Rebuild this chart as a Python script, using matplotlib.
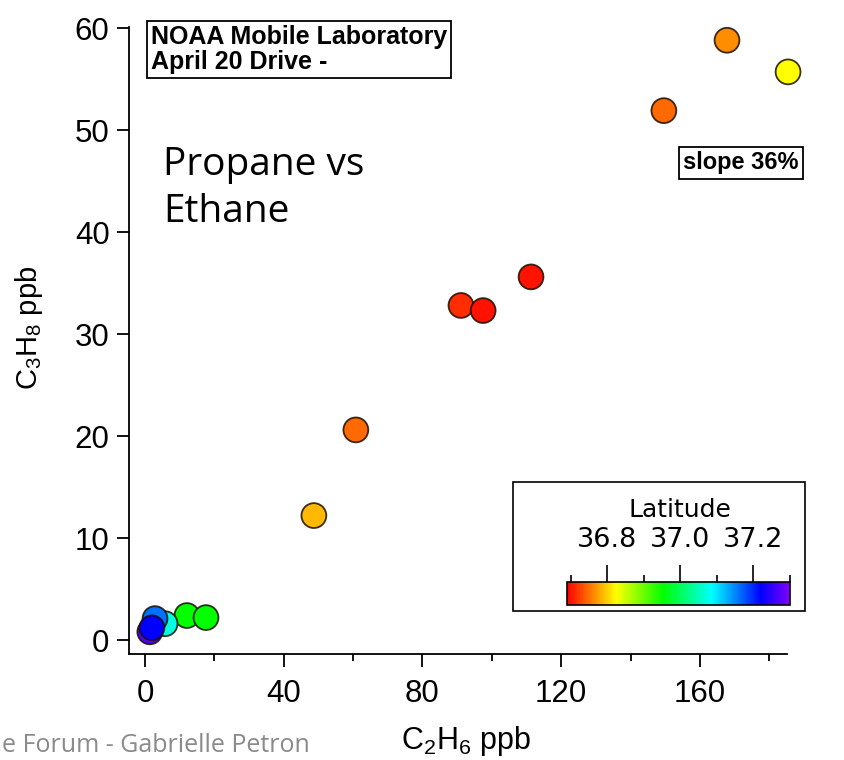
import numpy as np
import matplotlib
matplotlib.use("Agg")
import matplotlib.pyplot as plt
from matplotlib.colors import LinearSegmentedColormap, Normalize
from matplotlib.patches import Rectangle
from matplotlib.ticker import MultipleLocator, FixedLocator

plt.rcParams['font.family'] = ['Liberation Sans', 'DejaVu Sans']
plt.rcParams['mathtext.fontset'] = 'custom'
plt.rcParams['mathtext.rm'] = 'Liberation Sans'
plt.rcParams['mathtext.it'] = 'Liberation Sans'

# data
ethane = [167.8, 185.4, 149.6, 111.3, 91.1, 97.5, 60.8, 48.7, 12.1, 17.6, 5.8, 2.9, 1.4, 2.0]
propane = [58.8, 55.7, 51.9, 35.6, 32.8, 32.3, 20.6, 12.2, 2.4, 2.2, 1.6, 2.1, 0.8, 1.2]
latitude = [36.766, 36.825, 36.745, 36.70, 36.715, 36.70, 36.745, 36.79,
            36.95, 36.95, 37.07, 37.16, 37.27, 37.22]

xticks = [0, 40, 80, 120, 160]
yticks = [0, 10, 20, 30, 40, 50, 60]
cb_ticks = [36.8, 37.0, 37.2]
cb_minor = [36.7, 36.9, 37.1, 37.3]
lat_min, lat_max = 36.69, 37.30

# igor-ish rainbow
rainbow = LinearSegmentedColormap.from_list("igor_rainbow", [
    (0.0, "#ff0000"), (0.22, "#ffff00"), (0.43, "#00ff00"),
    (0.65, "#00ffff"), (0.87, "#0000ff"), (1.0, "#8000ff")])
norm = Normalize(lat_min, lat_max)

W, H = 845, 760
fig = plt.figure(figsize=(W / 100, H / 100), dpi=100)

def fx(px):
   return px / W

def fy(py):
   return 1 - py / H

ax = fig.add_axes([fx(129), fy(654), fx(787) - fx(129), fy(27) - fy(654)])

sc = ax.scatter(ethane, propane, c=latitude, cmap=rainbow, norm=norm, s=320,
                edgecolors=(0.1, 0.05, 0.0, 0.85), linewidths=1.3, zorder=3, clip_on=False)

ax.set_xlim(-4.6, 185.1)
ax.set_ylim(-1.37, 60.1)
for s in ["top", "right"]:
   ax.spines[s].set_visible(False)
for s in ["left", "bottom"]:
   ax.spines[s].set_linewidth(1.3)
ax.set_xticks(xticks)
ax.set_yticks(yticks)
ax.xaxis.set_minor_locator(MultipleLocator(20))
ax.tick_params(which="major", direction="out", length=9, width=1.3, labelsize=22.5, pad=9)
ax.tick_params(which="minor", direction="out", length=5, width=1.3)
ax.tick_params(axis="y", pad=5)

ax.set_xlabel(r"C$_2$H$_6$ ppb", fontsize=22)
ax.xaxis.set_label_coords(0.512, -0.112)
ax.set_ylabel(r"C$_3$H$_8$ ppb", fontsize=21)
ax.yaxis.set_label_coords(-0.128, 0.52)

# text boxes
fig.text(fx(151), fy(25), "NOAA Mobile Laboratory\nApril 20 Drive -", fontsize=18,
         fontweight="bold", ha="left", va="top", linespacing=1.05,
         bbox=dict(boxstyle="square,pad=0.15", fc="white", ec="black", lw=1.3))
fig.text(fx(741), fy(163), "slope 36%", fontsize=17, fontweight="bold", ha="center", va="center",
         bbox=dict(boxstyle="square,pad=0.2", fc="white", ec="black", lw=1.3))
fig.text(fx(163), fy(222), "Propane vs\nEthane", fontsize=28, family="Open Sans",
         ha="left", va="baseline", linespacing=1.3)

# colorbar legend box
fig.patches.append(Rectangle((fx(513), fy(611)), fx(805) - fx(513), fy(482) - fy(611),
                             transform=fig.transFigure, fill=False, ec="black", lw=1.2))
cax = fig.add_axes([fx(567), fy(605), fx(790) - fx(567), fy(582) - fy(605)])
cb = fig.colorbar(sc, cax=cax, orientation="horizontal")
cb.outline.set_linewidth(1.2)
cax.xaxis.set_ticks_position("top")
cax.xaxis.set_major_locator(FixedLocator(cb_ticks))
cax.xaxis.set_minor_locator(FixedLocator(cb_minor))
cax.set_xticklabels([f"{t:.1f}" for t in cb_ticks], family="DejaVu Sans")
cax.tick_params(which="major", direction="out", length=12, width=1.2, labelsize=19.5, pad=9)
cax.tick_params(which="minor", direction="out", length=5, width=1.2)
fig.text(fx(680), fy(517), "Latitude", fontsize=18, family="DejaVu Sans", ha="center", va="baseline")

# footer from the slide
fig.text(fx(2), fy(752), "e Forum - Gabrielle Petron", fontsize=18, family="Open Sans",
         color="#8a8a8a", ha="left", va="baseline")

fig.savefig("out.png", dpi=100)
